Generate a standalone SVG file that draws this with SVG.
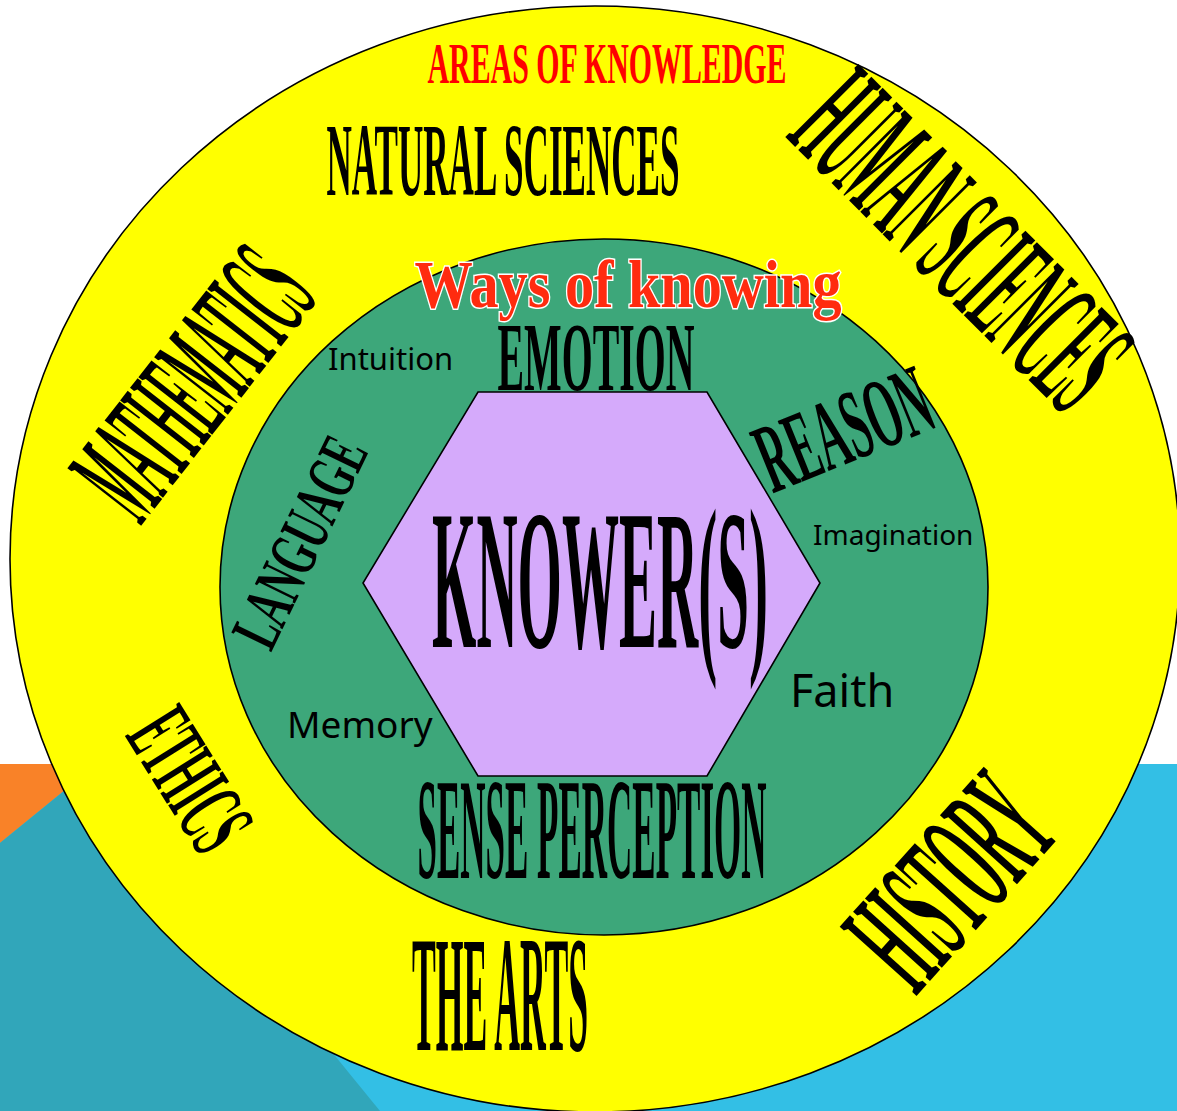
<svg xmlns="http://www.w3.org/2000/svg" width="1177" height="1111" viewBox="0 0 1177 1111">
<style>
.w{font-family:"Liberation Serif","Times New Roman",serif;font-weight:bold;fill:#000;text-anchor:middle}
.s{font-family:"Noto Sans","Liberation Sans",sans-serif;fill:#000}
.edge{stroke:#000;stroke-width:1.6}
</style>
<g id="background">
<rect x="0" y="0" width="1177" height="1111" fill="#ffffff"/>
<rect x="0" y="764" width="1177" height="347" fill="#33BFE5"/>
<polygon points="0,764 97,764 0,843" fill="#F98228"/>
<polygon points="0,843 97,764 380,1111 0,1111" fill="#31A6BA"/>
</g>
<g id="areas-of-knowledge">
<ellipse cx="595" cy="559" rx="585" ry="553" fill="#FFFF00" class="edge"/>
<text class="w" x="607" y="83" font-size="57" textLength="359" lengthAdjust="spacingAndGlyphs" style="fill:#FF0000">AREAS OF KNOWLEDGE</text>
<text class="w" x="503" y="195" font-size="103" textLength="353" lengthAdjust="spacingAndGlyphs">NATURAL SCIENCES</text>
<text class="w" transform="translate(962,240) rotate(45)" x="0" y="52" font-size="158" textLength="397" lengthAdjust="spacingAndGlyphs">HUMAN SCIENCES</text>
<text class="w" transform="translate(193,383) rotate(-52)" x="0" y="47" font-size="143" textLength="290" lengthAdjust="spacingAndGlyphs">MATHEMATICS</text>
<text class="w" transform="translate(190,780) rotate(58)" x="0" y="32" font-size="98" textLength="145" lengthAdjust="spacingAndGlyphs">ETHICS</text>
<text class="w" x="500" y="1050" font-size="166" textLength="176" lengthAdjust="spacingAndGlyphs">THE ARTS</text>
<text class="w" transform="translate(950,881) rotate(-48)" x="0" y="52" font-size="158" textLength="217" lengthAdjust="spacingAndGlyphs">HISTORY</text>
</g>
<g id="ways-of-knowing">
<ellipse cx="604" cy="587" rx="384" ry="348" fill="#3DA77A" class="edge"/>
<text x="628" y="307" font-family="Liberation Serif,Times New Roman,serif" font-weight="bold" font-size="68" text-anchor="middle" textLength="427" lengthAdjust="spacingAndGlyphs" fill="#FF2B0F" stroke="#ffffff" stroke-width="3" paint-order="stroke">Ways of knowing</text>
<text class="s" x="328" y="370" font-size="31">Intuition</text>
<text class="w" x="596" y="390" font-size="98" textLength="197" lengthAdjust="spacingAndGlyphs">EMOTION</text>
<text class="w" transform="translate(856,460) rotate(-22)" x="0" y="0" font-size="100" textLength="180" lengthAdjust="spacingAndGlyphs">REASON</text>
<text class="w" transform="translate(320,552) rotate(-64)" x="0" y="0" font-size="68" textLength="224" lengthAdjust="spacingAndGlyphs">LANGUAGE</text>
<text class="s" x="813" y="545" font-size="28">Imagination</text>
<text class="s" x="790" y="707" font-size="45">Faith</text>
<text class="s" x="287" y="738" font-size="37">Memory</text>
<text class="w" x="592" y="878" font-size="145" textLength="349" lengthAdjust="spacingAndGlyphs">SENSE PERCEPTION</text>
</g>
<g id="knower">
<polygon points="478,392 707,392 820,583 707,776 478,776 363,583" fill="#D5AAFB" class="edge"/>
<text class="w" x="600" y="647" font-size="200" textLength="336" lengthAdjust="spacingAndGlyphs">KNOWER(S)</text>
</g>
<g id="connectors"></g>
</svg>
